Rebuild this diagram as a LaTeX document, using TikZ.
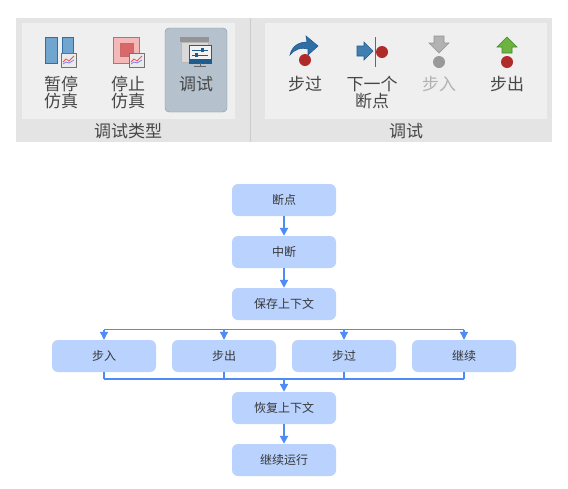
\documentclass[tikz,border=0pt]{standalone}
\usepackage{fontspec}
\setmainfont{Noto Sans CJK SC}
\usetikzlibrary{arrows.meta}

\definecolor{flowfill}{HTML}{B9D2FE}
\definecolor{flowline}{HTML}{4F8BF5}
\definecolor{barfill}{HTML}{E4E4E4}
\definecolor{panelfill}{HTML}{EFEFEF}
\definecolor{dotred}{HTML}{B02A2A}
\definecolor{iconblue}{HTML}{6FA5CF}
\definecolor{icondeep}{HTML}{2F6FA5}
\definecolor{btnfill}{HTML}{B5C2CD}
\definecolor{btnline}{HTML}{7F93A3}
\definecolor{iconnavy}{HTML}{1F5C8F}
\definecolor{iconpink}{HTML}{F4B8B8}
\definecolor{iconrose}{HTML}{D96868}
\definecolor{iconedge}{HTML}{C96A6A}
\definecolor{icongreen}{HTML}{6DB33F}
\definecolor{greenedge}{HTML}{3F8A2A}

\begin{document}
\begin{tikzpicture}[
    x=1pt, y=-1pt,
    >={Triangle[length=8pt,width=8pt]},
    flowbox/.style={rectangle, rounded corners=6pt, fill=flowfill, minimum width=104pt,
        minimum height=32pt, inner sep=0pt, text=black!78, font=\fontsize{12}{12}\selectfont},
    toollabel/.style={inner sep=0pt, text=black!72, font=\fontsize{17}{17}\selectfont},
    dimmedlabel/.style={toollabel, text=black!30},
    thinflow/.style={draw=flowline, line width=1.1pt},
    thickflow/.style={draw=flowline, line width=2pt},
    reddot/.style={fill=dotred},
]
\useasboundingbox (0,0) rectangle (568,488);
\fill[white] (0,0) rectangle (568,488);

% === Toolbar background ===
\fill[barfill] (16,18) rectangle (552,142);
\fill[panelfill, draw=black!6] (22,23) rectangle (234,118);
\fill[panelfill, draw=black!6] (265,23) rectangle (546,118);
\draw[black!20] (250,18) -- (250,142);
% Selected button
\fill[rounded corners=4pt, fill=btnfill, draw=btnline] (165,28) rectangle (227,112);

% === Pause icon ===
\fill[iconblue, draw=icondeep, line width=1pt] (45,37) rectangle (57,63);
\fill[iconblue, draw=icondeep, line width=1pt] (62,37) rectangle (73,63);

% === Stop icon ===
\fill[iconpink, draw=iconedge, line width=1pt] (113,37) rectangle (139,63);
\fill[iconrose, draw=iconedge, line width=0.6pt] (120,43) rectangle (133,56);

% Small chart thumbnails
\foreach \xx in {61,129} {
    \fill[black!8, draw=black!55, line width=1pt] (\xx,53) rectangle ++(15,14);
    \draw[red!70, line width=0.8pt] (\xx+2,62) -- ++(3,-3) -- ++(3,2) -- ++(5,-5);
    \draw[blue!50, line width=0.8pt] (\xx+2,64) -- ++(3,-2) -- ++(3,1) -- ++(5,-3);
}

% === Debug icon ===
\fill[black!15, draw=black!28] (181,42) rectangle (208,62);
\fill[black!42] (180,37) rectangle (209,42);
\fill[black!5, draw=iconnavy, line width=1pt] (189,45) rectangle (211,63);
\fill[iconnavy] (189,59) rectangle (211,63);
\draw[iconnavy, line width=1pt] (192,50) -- (208,50);
\draw[iconnavy, line width=1pt] (192,55) -- (208,55);
\fill[iconnavy] (201,48) rectangle (204,52);
\fill[iconnavy] (195,53) rectangle (198,57);
\draw[black!60, line width=1pt] (200,63) -- (200,66);
\draw[black!60, line width=1pt] (194,66.5) -- (206,66.5);

% === Step over ===
\fill[icondeep, draw=iconnavy, line width=0.6pt]
    (290,55) .. controls (292,46) and (299,42) .. (307,42) -- (306,36) -- (318,46) -- (308,55) -- (308,49)
    .. controls (301,47) and (295,49) .. (290,55) -- cycle;
\fill[reddot] (305,60) circle (6);

% === Next breakpoint ===
\fill[icondeep!70!iconblue, draw=iconnavy, line width=0.6pt]
    (357,46) -- (364,46) -- (364,42) -- (373,51) -- (364,60) -- (364,56) -- (357,56) -- cycle;
\draw[black!60, line width=1pt] (375,37) -- (375,67);
\fill[reddot] (382,52) circle (6);

% === Step into (dimmed) ===
\fill[black!30, draw=black!42, line width=0.6pt]
    (434,36) -- (444,36) -- (444,43) -- (449,43) -- (439,53) -- (429,43) -- (434,43) -- cycle;
\fill[black!40] (439,62) circle (6);

% === Step out ===
\fill[icongreen, draw=greenedge, line width=0.6pt]
    (507,37) -- (517,47) -- (512,47) -- (512,53) -- (502,53) -- (502,47) -- (497,47) -- cycle;
\fill[reddot] (507,62) circle (6);

% === Toolbar labels ===
\node[toollabel] (pause1) at (61,84) {暂停};
\node[toollabel] (pause2) at (61,101) {仿真};
\node[toollabel] (stop1) at (128,84) {停止};
\node[toollabel] (stop2) at (128,101) {仿真};
\node[toollabel] (debugbtn) at (196,84) {调试};
\node[toollabel] (debugtype) at (128,131) {调试类型};
\node[toollabel] (stepover) at (305,84) {步过};
\node[toollabel] (nextbp1) at (372,84) {下一个};
\node[toollabel] (nextbp2) at (372,101) {断点};
\node[dimmedlabel] (stepinto) at (439,84) {步入};
\node[toollabel] (stepout) at (507,84) {步出};
\node[toollabel] (debuggroup) at (406,131) {调试};

% === Flow nodes ===
\node[flowbox] (bp) at (284,200) {断点};
\node[flowbox] (intr) at (284,252) {中断};
\node[flowbox] (save) at (284,304) {保存上下文};
\node[flowbox] (into) at (104,356) {步入};
\node[flowbox] (out) at (224,356) {步出};
\node[flowbox] (over) at (344,356) {步过};
\node[flowbox] (cont) at (464,356) {继续};
\node[flowbox] (restore) at (284,408) {恢复上下文};
\node[flowbox] (resume) at (284,460) {继续运行};

% === Connectors ===
\coordinate (topbus) at (284,329.5);
\coordinate (lowbus) at (284,378.5);
\draw[thickflow, ->] (bp) -- (intr);
\draw[thickflow, ->] (intr) -- (save);
\draw[thickflow, ->] (restore) -- (resume);
\draw[thinflow] (into.north |- topbus) -- (cont.north |- topbus);
\foreach \nn in {into,out,over,cont} {
    \draw[thinflow, ->] (\nn.north |- topbus) -- (\nn.north);
    \draw[thickflow] (\nn.south) -- (\nn.south |- lowbus);
}
\draw[thickflow] (into.south |- lowbus) -- (cont.south |- lowbus);
\draw[thickflow, ->] (lowbus) -- (restore.north);

\end{tikzpicture}
\end{document}
